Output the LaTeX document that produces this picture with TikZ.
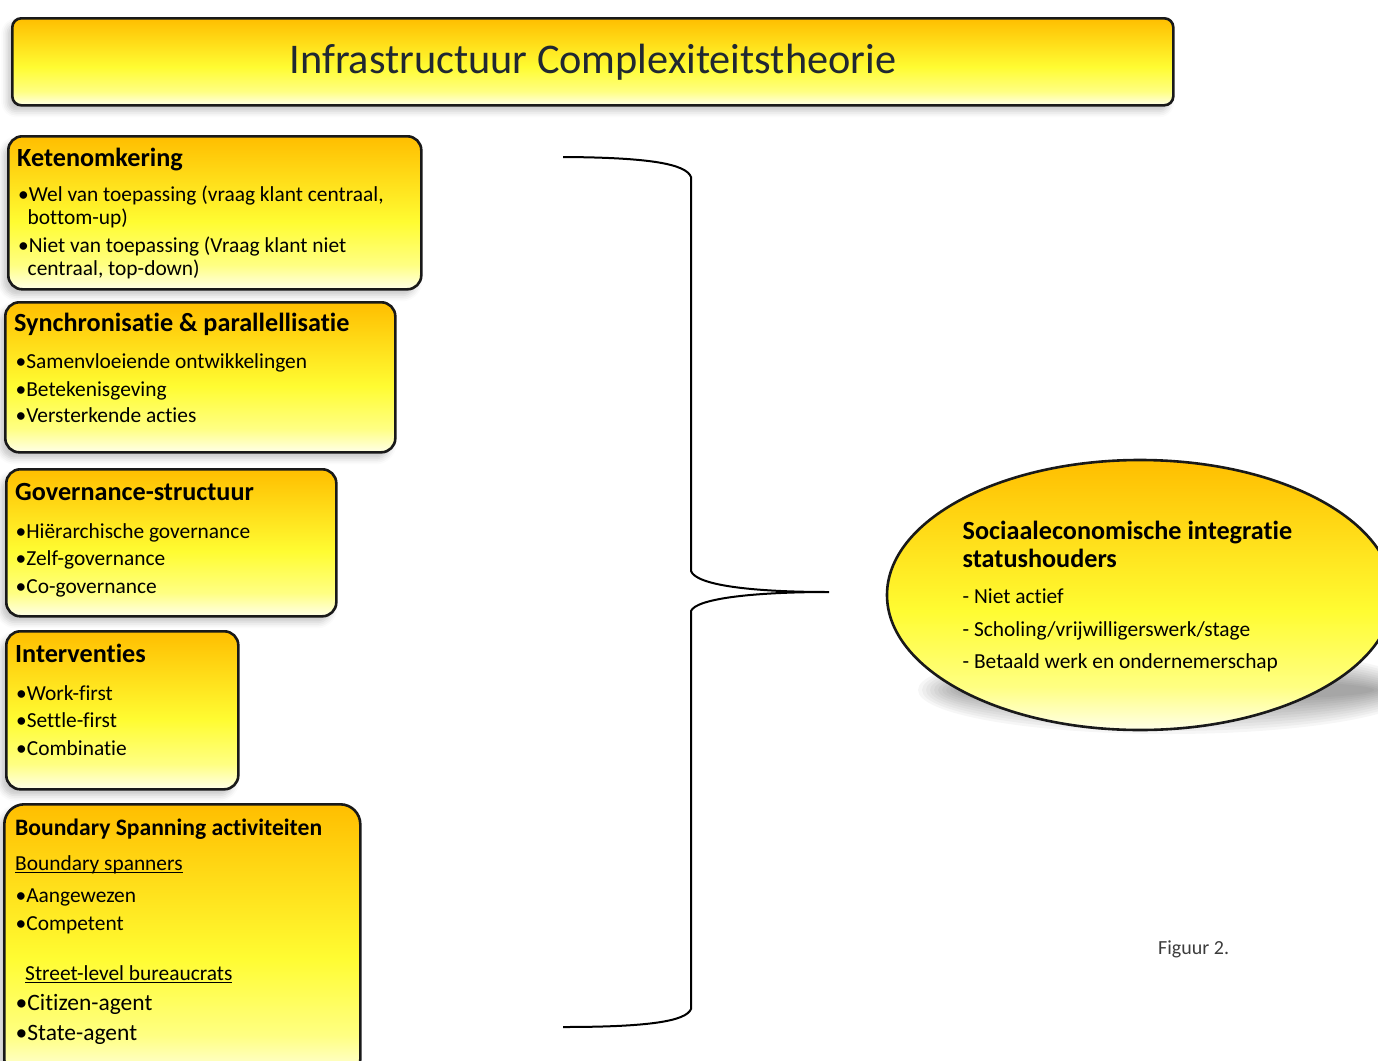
\documentclass[tikz,border=0pt]{standalone}
\usepackage{fontspec}
\setmainfont[Ligatures=NoCommon]{Carlito}
\usetikzlibrary{shapes.geometric,shadows.blur}

% gold-to-pale gradient used for every panel
\definecolor{goldtop}{RGB}{255,190,0}
\definecolor{goldmid}{RGB}{255,252,50}
\definecolor{goldlow}{RGB}{255,255,130}
\definecolor{goldpale}{RGB}{255,255,232}
\definecolor{titleink}{RGB}{32,40,50}
\definecolor{captionink}{RGB}{60,60,60}
\pgfdeclareverticalshading{goldfill}{100bp}{%
  color(0bp)=(goldpale); color(25bp)=(goldpale); color(33bp)=(goldlow);
  color(47bp)=(goldmid); color(75bp)=(goldtop); color(100bp)=(goldtop)}

% underline that sits just under the baseline
\newcommand\lineunder[1]{\setbox0\hbox{#1}\rlap{\rule[-2.6pt]{\wd0}{1.1pt}}\box0}

\tikzset{
  panel/.style={draw=black!90, line width=2.6pt, rounded corners=14pt,
    shade, shading=goldfill, anchor=north west, inner sep=0pt,
    blur shadow={shadow xshift=-5pt, shadow yshift=-6pt, shadow opacity=22,
      shadow blur radius=6pt}},
  head/.style={anchor=base west, inner sep=0pt,
    font=\fontsize{26.2}{30}\selectfont\bfseries},
  smallhead/.style={anchor=base west, inner sep=0pt,
    font=\fontsize{23.6}{28}\selectfont\bfseries},
  item/.style={anchor=base west, inner sep=0pt,
    font=\fontsize{21.4}{25}\selectfont},
  bigitem/.style={anchor=base west, inner sep=0pt,
    font=\fontsize{23.5}{28}\selectfont},
  brace/.style={draw=black, line width=2pt},
}

\begin{document}
\begin{tikzpicture}[x=1pt, y=-1pt]
\useasboundingbox (0,0) rectangle (1378,1060);
\clip (0,0) rectangle (1378,1060);

% title banner
\node[panel, rounded corners=9pt, minimum width=1161pt, minimum height=87pt,
      font=\fontsize{42.3}{48}\selectfont, text=titleink]
  (title) at (11,17) {Infrastructuur Complexiteitstheorie};

% Ketenomkering
\node[panel, minimum width=413pt, minimum height=153pt] (keten) at (7,135) {};
\node[head] (ketenH) at (17,166) {Ketenomkering};
\node[item] (keten1) at (18,201.5) {•Wel van toepassing (vraag klant centraal,};
\node[item] (keten1b) at (27.5,224) {bottom-up)};
\node[item] (keten2) at (18,252) {•Niet van toepassing (Vraag klant niet};
\node[item] (keten2b) at (27.5,275) {centraal, top-down)};

% Synchronisatie & parallellisatie
\node[panel, minimum width=390pt, minimum height=150pt] (sync) at (4,301) {};
\node[head] (syncH) at (14,331.5) {Synchronisatie \& parallellisatie};
\node[item] (sync1) at (15.5,368.3) {•Samenvloeiende ontwikkelingen};
\node[item] (sync2) at (15.5,396) {•Betekenisgeving};
\node[item] (sync3) at (15.5,422.7) {•Versterkende acties};

% Governance-structuur
\node[panel, minimum width=330pt, minimum height=147pt] (gov) at (5,468) {};
\node[head] (govH) at (15,500) {Governance-structuur};
\node[item] (gov1) at (15.5,538.3) {•Hiërarchische governance};
\node[item] (gov2) at (15.5,565.7) {•Zelf-governance};
\node[item] (gov3) at (15.5,593.3) {•Co-governance};

% Interventies
\node[panel, minimum width=232pt, minimum height=158pt] (intv) at (5,630) {};
\node[head] (intvH) at (15,662.7) {Interventies};
\node[item] (intv1) at (16,700.7) {•Work-first};
\node[item] (intv2) at (16,727.7) {•Settle-first};
\node[item] (intv3) at (16,755) {•Combinatie};

% Boundary Spanning activiteiten
\node[panel, rounded corners=20pt, minimum width=356pt, minimum height=275pt] (bsa) at (3,803) {};
\node[smallhead] (bsaH) at (15,835) {Boundary Spanning activiteiten};
\node[item] (bsaS) at (15,870) {\lineunder{Boundary spanners}};
\node[item] (bsa1) at (15.5,902.7) {•Aangewezen};
\node[item] (bsa2) at (15.5,930) {•Competent};
\node[item] (bsaB) at (25,980) {\lineunder{Street-level bureaucrats}};
\node[bigitem] (bsa3) at (15.5,1010) {•Citizen-agent};
\node[bigitem] (bsa4) at (15.5,1040) {•State-agent};

% soft shadow under the outcome ellipse
\foreach \k in {0,...,11}
  \fill[black, opacity=0.035] (1168,690) ellipse ({250-4*\k} and {44-3*\k});

% outcome ellipse
\node[ellipse, draw=black!90, line width=2.6pt, shade, shading=goldfill,
      minimum width=506pt, minimum height=270pt, inner sep=0pt]
  (integ) at (1140,595) {};
\node[head] (integH1) at (962.5,539.3) {Sociaaleconomische integratie};
\node[head] (integH2) at (962.5,567.3) {statushouders};
\node[item] (integ1) at (962.5,603.3) {- Niet actief};
\node[item] (integ2) at (962.5,636.7) {- Scholing/vrijwilligerswerk/stage};
\node[item] (integ3) at (962.5,668.3) {- Betaald werk en ondernemerschap};

% curly brace gathering the five factors
\coordinate (braceTop) at (563,157);
\coordinate (braceUpper) at (691,177);
\coordinate (braceMidA) at (691,571);
\coordinate (braceTip) at (829,592);
\coordinate (braceMidB) at (691,611);
\coordinate (braceLower) at (691,1009);
\coordinate (braceBot) at (563,1027);
\draw[brace] (braceTop) .. controls (650,157.5) and (686,164) .. (braceUpper)
  -- (braceMidA) .. controls (696,585) and (750,592) .. (braceTip)
  .. controls (750,592) and (696,599) .. (braceMidB)
  -- (braceLower) .. controls (686,1021) and (650,1027) .. (braceBot);

% caption
\node[anchor=base west, inner sep=0pt, font=\fontsize{20}{24}\selectfont,
      text=captionink] (caption) at (1158,954) {Figuur 2.};
\end{tikzpicture}
\end{document}
